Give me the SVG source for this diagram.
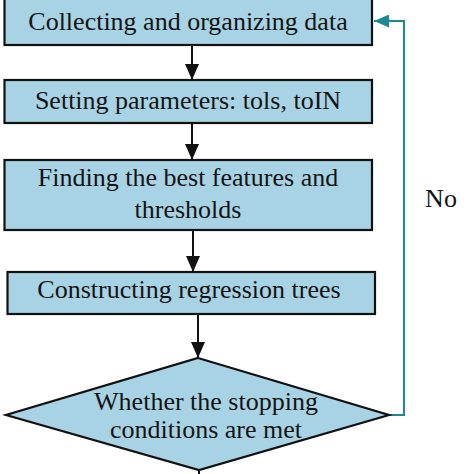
<svg xmlns="http://www.w3.org/2000/svg" width="474" height="474" viewBox="0 0 474 474">
<style>
.box{fill:#a7d3e4;stroke:#111;stroke-width:2.2}
.t{font-family:"Liberation Serif","Times New Roman",serif;font-size:26px;fill:#141414;text-anchor:middle}
.c{fill:none;stroke:#111;stroke-width:2}
.fb{fill:none;stroke:#1d8995;stroke-width:2}
</style>
<defs>
<marker id="ah" markerUnits="userSpaceOnUse" markerWidth="16" markerHeight="14" refX="16" refY="7" orient="auto">
<path d="M0,0 L16,7 L0,14 z" fill="#111"/>
</marker>
<marker id="ahT" markerUnits="userSpaceOnUse" markerWidth="15" markerHeight="13" refX="15" refY="6.5" orient="auto">
<path d="M0,0 L15,6.5 L0,13 z" fill="#1d8995"/>
</marker>
</defs>
<g id="connectors">
<line class="c" x1="192" y1="45" x2="192" y2="80" marker-end="url(#ah)"/>
<line class="c" x1="192" y1="123" x2="192" y2="160" marker-end="url(#ah)"/>
<line class="c" x1="193" y1="230" x2="193" y2="272" marker-end="url(#ah)"/>
<line class="c" x1="198" y1="314" x2="198" y2="358" marker-end="url(#ah)"/>
<line class="c" x1="199" y1="470" x2="199" y2="476"/>
<polyline class="fb" points="389,415 404,415 404,21 374,21" marker-end="url(#ahT)"/>
<text class="t" x="441" y="207">No</text>
</g>
<g id="n1">
<rect class="box" x="4.5" y="-5" width="367.5" height="50"/>
<text class="t" x="188" y="30">Collecting and organizing data</text>
</g>
<g id="n2">
<rect class="box" x="4.5" y="80" width="367.5" height="43"/>
<text class="t" x="188" y="109">Setting parameters: tols, toIN</text>
</g>
<g id="n3">
<rect class="box" x="4.5" y="160" width="367.5" height="70"/>
<text class="t" x="188" y="186">Finding the best features and</text>
<text class="t" x="188" y="218">thresholds</text>
</g>
<g id="n4">
<rect class="box" x="7.5" y="272" width="367.5" height="42"/>
<text class="t" x="189" y="298">Constructing regression trees</text>
</g>
<g id="n5">
<polygon class="box" points="198,358 389,415 199,470 6,415"/>
<text class="t" x="206" y="410">Whether the stopping</text>
<text class="t" x="206" y="438">conditions are met</text>
</g>
</svg>
